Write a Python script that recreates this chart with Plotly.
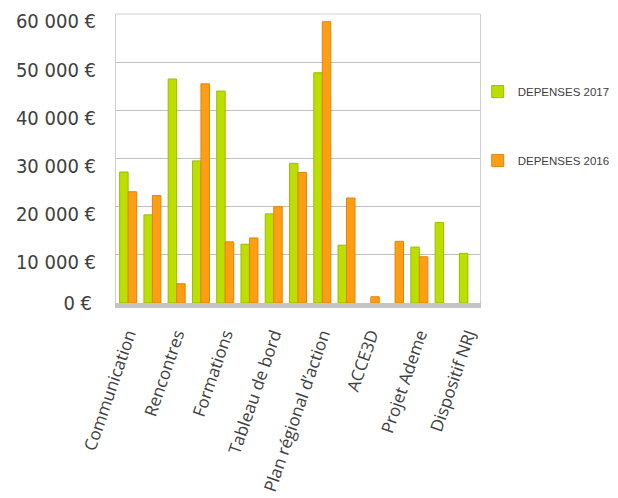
import plotly.graph_objects as go

# 15 categories, only every other one labelled on the axis
positions = list(range(15))
tick_positions = [0, 2, 4, 6, 8, 10, 12, 14]
tick_labels = ["Communication", "Rencontres", "Formations", "Tableau de bord",
               "Plan régional d’action", "ACCE3D", "Projet Ademe", "Dispositif NRJ"]

dep_2017 = [27200, 18300, 46500, 29500, 44000, 12200, 18500, 29000, 47800, 12000,
            None, None, 11600, 16700, 10300]
dep_2016 = [23100, 22300, 4000, 45500, 12700, 13500, 20000, 27100, 58400, 21800,
            1300, 12800, 9600, None, None]

y_ticks = [0, 10000, 20000, 30000, 40000, 50000, 60000]
y_tick_labels = ["0 €", "10 000 €", "20 000 €", "30 000 €", "40 000 €", "50 000 €", "60 000 €"]

GREEN = "#bddf00"
ORANGE = "#ff9e14"

Y_MAX = 60000
# value labels sit on the front plane of the 3D chart, slightly below the back-wall gridlines
LABEL_SHIFT = 1550
Y_FONT = dict(family="DejaVu Sans Condensed, DejaVu Sans", size=20, color="#404040")

fig = go.Figure()
fig.add_trace(go.Bar(x=positions, y=dep_2017, name="DEPENSES 2017",
                     marker=dict(color=GREEN, line=dict(color="#9dbb00", width=1)),
                     legendgroup="a"))
fig.add_trace(go.Bar(x=positions, y=dep_2016, name="DEPENSES 2016",
                     marker=dict(color=ORANGE, line=dict(color="#e0850a", width=1)),
                     legendgroup="b"))
# empty helper trace that carries the label axis
fig.add_trace(go.Scatter(x=[], y=[], yaxis="y2", showlegend=False, hoverinfo="skip"))

# main axis: gridlines + "0 €" ; helper axis: the other value labels, shifted down a little
main_text = [y_tick_labels[0]] + [""] * (len(y_ticks) - 1)

# page body has an 8px margin: the figure is sized to fit the 618x498 window
fig.update_layout(
    width=610, height=490,
    margin=dict(l=108, r=138, t=6, b=195, autoexpand=False),
    paper_bgcolor="white", plot_bgcolor="white",
    barmode="group", bargap=0.3, bargroupgap=0,
    showlegend=True,
    legend=dict(xref="container", yref="container", x=0.770, y=0.859, xanchor="left", yanchor="top",
                font=dict(family="Liberation Sans", size=11.5, color="#404040"),
                tracegroupgap=50, itemwidth=30, bgcolor="rgba(0,0,0,0)"),
    xaxis=dict(range=[-0.5, 14.5], tickmode="array", tickvals=tick_positions, ticktext=tick_labels,
               tickangle=-71, tickfont=dict(family="Open Sans", size=17, color="#404040"),
               showgrid=False, zeroline=False, showline=True, linecolor="#c4c4c4", linewidth=5,
               ticks="", ticklabelstandoff=10, automargin=False, ticklabeloverflow="allow"),
    yaxis=dict(range=[0, Y_MAX], tickmode="array", tickvals=y_ticks, ticktext=main_text,
               tickfont=Y_FONT, ticklabelstandoff=19, ticklabeloverflow="allow",
               showgrid=True, gridcolor="#bfbfbf", gridwidth=1, zeroline=False,
               showline=True, linecolor="#d0d0d0", linewidth=1, mirror=True,
               ticks="", automargin=False),
    yaxis2=dict(overlaying="y", side="left", range=[LABEL_SHIFT, Y_MAX + LABEL_SHIFT],
                tickmode="array", tickvals=y_ticks[1:], ticktext=y_tick_labels[1:],
                tickfont=Y_FONT,
                showgrid=False, zeroline=False, showline=False, ticks="",
                ticklabelstandoff=19, automargin=False, ticklabeloverflow="allow"),
    shapes=[dict(type="line", xref="paper", yref="paper", x0=0, x1=1, y0=1, y1=1,
                 line=dict(color="#d0d0d0", width=1))],
)

fig.write_html("out.html")
